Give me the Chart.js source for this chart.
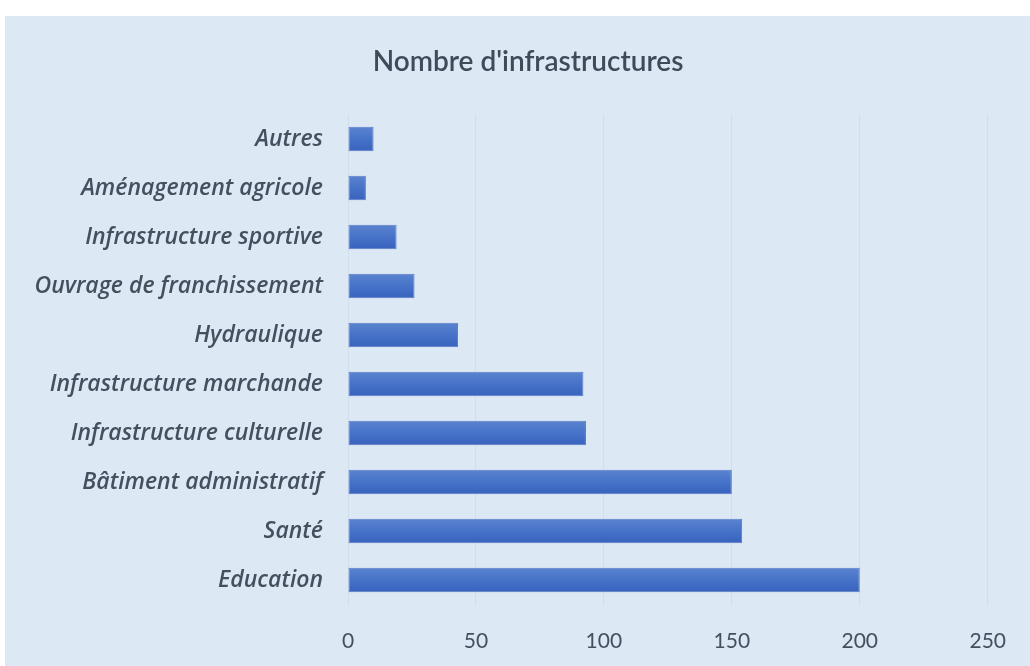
<!DOCTYPE html>
<html>
<head>
<meta charset="utf-8">
<script src="https://cdn.jsdelivr.net/npm/chart.js@4/dist/chart.umd.min.js"></script>
<style>
  html, body { margin: 0; padding: 0; background: #ffffff; }
  #wrap { position: absolute; left: 5px; top: 16px; width: 1025px; height: 650px; background: #dde8f5; }
  canvas { display: block; }
</style>
</head>
<body>
<div id="wrap"><canvas id="c" width="1025" height="650"></canvas></div>
<script>
const titleText = "Nombre d'infrastructures";
const categories = [
  "Autres",
  "Aménagement agricole",
  "Infrastructure sportive",
  "Ouvrage de franchissement",
  "Hydraulique",
  "Infrastructure marchande",
  "Infrastructure culturelle",
  "Bâtiment administratif",
  "Santé",
  "Education"
];
const values = [10, 7, 19, 26, 43, 92, 93, 150, 154, 200];
const xTicks = [0, 50, 100, 150, 200, 250];

const textColor = '#454f5e';

function barFill(context) {
  const chart = context.chart;
  const meta = chart.getDatasetMeta(0);
  const el = meta.data[context.dataIndex];
  if (!el || typeof el.y !== 'number' || !isFinite(el.y) || !el.height) return '#4472c4';
  const top = el.y - el.height / 2, bot = el.y + el.height / 2;
  const g = chart.ctx.createLinearGradient(0, top, 0, bot);
  g.addColorStop(0, '#5b83cf');
  g.addColorStop(0.5, '#4673c8');
  g.addColorStop(1, '#3862bd');
  return g;
}

// let long category labels extend to the left of the y-axis box without being clipped
const unclipLabels = {
  id: 'unclipLabels',
  afterLayout(chart) {
    const y = chart.scales.y;
    if (y) y.left = 0;
  }
};

const chart = new Chart(document.getElementById('c'), {
  type: 'bar',
  data: {
    labels: categories,
    datasets: [{
      data: values,
      backgroundColor: barFill,
      borderColor: '#5a7ec6',
      borderWidth: 1,
      borderSkipped: false,
      categoryPercentage: 1.0,
      barPercentage: 0.5
    }]
  },
  plugins: [unclipLabels],
  options: {
    indexAxis: 'y',
    responsive: false,
    animation: false,
    layout: { padding: { left: 61, right: 40, top: 0, bottom: 0 } },
    plugins: {
      legend: { display: false },
      tooltip: { enabled: false },
      title: {
        display: true,
        text: titleText,
        color: '#404b5a',
        font: { family: 'Lato', size: 28, weight: '600' },
        padding: { top: 29, bottom: 36 }
      }
    },
    scales: {
      x: {
        min: 0,
        max: 250,
        afterBuildTicks: (axis) => { axis.ticks = xTicks.map(v => ({ value: v })); },
        afterFit: (axis) => { axis.height = 61.5; },
        border: { display: false },
        grid: { color: 'rgba(200,212,228,0.5)', lineWidth: 1, drawTicks: false },
        ticks: {
          color: textColor,
          padding: 24,
          font: { family: 'Lato', size: 21 }
        }
      },
      y: {
        afterFit: (axis) => { axis.width = 282; },
        border: { display: false },
        grid: { display: false, drawTicks: false },
        ticks: {
          color: textColor,
          padding: 25,
          font: { family: 'Open Sans', size: 23, style: 'italic', weight: '600' }
        }
      }
    }
  }
});
chart.update();
</script>
</body>
</html>
